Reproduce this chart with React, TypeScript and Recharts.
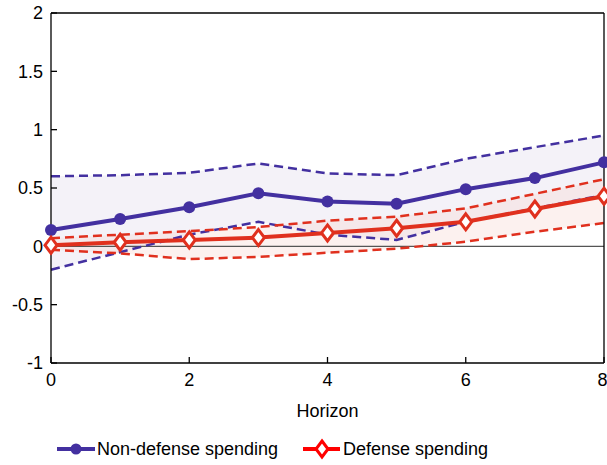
import React from "react";
import {
  Area,
  ComposedChart,
  Legend,
  Line,
  ReferenceLine,
  XAxis,
  YAxis,
} from "recharts";

const horizons = [0, 1, 2, 3, 4, 5, 6, 7, 8];

const nonDefense = [0.14, 0.235, 0.335, 0.455, 0.385, 0.365, 0.49, 0.585, 0.72];
const nonDefenseUpper = [0.6, 0.61, 0.63, 0.71, 0.625, 0.61, 0.75, 0.85, 0.95];
const nonDefenseLower = [-0.2, -0.05, 0.1, 0.21, 0.1, 0.055, 0.21, 0.325, 0.44];

const defense = [0.01, 0.035, 0.055, 0.075, 0.115, 0.155, 0.21, 0.32, 0.43];
const defenseUpper = [0.07, 0.1, 0.13, 0.165, 0.22, 0.255, 0.325, 0.45, 0.575];
const defenseLower = [-0.03, -0.06, -0.11, -0.09, -0.055, -0.02, 0.04, 0.125, 0.2];

const xTicks = [0, 2, 4, 6, 8];
const yTicks = [-1, -0.5, 0, 0.5, 1, 1.5, 2];

const PURPLE = "#4330a0";
const RED = "#e0301e";
const FONT = "'Liberation Sans', Arial, sans-serif";

const data = horizons.map((h, i) => ({
  h,
  nd: nonDefense[i],
  ndUp: nonDefenseUpper[i],
  ndLo: nonDefenseLower[i],
  ndBand: [nonDefenseLower[i], nonDefenseUpper[i]],
  d: defense[i],
  dUp: defenseUpper[i],
  dLo: defenseLower[i],
  dBand: [defenseLower[i], defenseUpper[i]],
}));

const Diamond = (props: any) => {
  const { cx, cy, stroke } = props;
  if (cx == null || cy == null) return null;
  return (
    <path
      d={`M${cx},${cy - 8} L${cx + 6},${cy} L${cx},${cy + 8} L${cx - 6},${cy} Z`}
      fill="#ffffff"
      stroke={stroke}
      strokeWidth={3}
    />
  );
};

const LegendBox = () => (
  <div
    style={{
      position: "relative",
      height: 46,
      width: 607,
      fontFamily: FONT,
      fontSize: 18,
      color: "#000",
    }}
  >
    <div style={{ position: "absolute", left: 57, top: 19, display: "flex", alignItems: "center", height: 22 }}>
      <svg width={40} height={22}>
        <line x1={0} y1={11} x2={38} y2={11} stroke={PURPLE} strokeWidth={4} />
        <circle cx={19} cy={11} r={5.5} fill={PURPLE} />
      </svg>
      <span>Non-defense spending</span>
    </div>
    <div style={{ position: "absolute", left: 303, top: 19, display: "flex", alignItems: "center", height: 22 }}>
      <svg width={40} height={22}>
        <line x1={0} y1={11} x2={37} y2={11} stroke="#ff0000" strokeWidth={4} />
        <path d="M19,3 L25,11 L19,19 L13,11 Z" fill="#fff" stroke="#ff0000" strokeWidth={3} />
      </svg>
      <span>Defense spending</span>
    </div>
  </div>
);

export default function App() {
  const tickStyle = { fill: "#000", fontSize: 18, fontFamily: FONT };
  return (
    <div style={{ position: "absolute", left: 0, top: 0, background: "#fff" }}>
      <ComposedChart
        width={607}
        height={465}
        data={data}
        margin={{ top: 12, right: 2, bottom: 0, left: 0 }}
      >
        <XAxis
          xAxisId="b"
          dataKey="h"
          type="number"
          domain={[0, 8]}
          ticks={xTicks}
          tickSize={-6}
          tickMargin={16}
          stroke="#000"
          strokeWidth={1.3}
          tick={tickStyle}
          height={56}
          label={{
            value: "Horizon",
            position: "insideBottom",
            offset: 2,
            fill: "#000",
            fontSize: 18,
            fontFamily: FONT,
          }}
        />
        <XAxis
          xAxisId="t"
          orientation="top"
          dataKey="h"
          type="number"
          domain={[0, 8]}
          ticks={xTicks}
          tickSize={-6}
          tick={false}
          stroke="#000"
          strokeWidth={1.3}
          height={1}
        />
        <YAxis
          yAxisId="l"
          type="number"
          domain={[-1, 2]}
          ticks={yTicks}
          tickSize={-6}
          tickMargin={14}
          stroke="#000"
          strokeWidth={1.3}
          tick={tickStyle}
          width={51}
          interval={0}
        />
        <YAxis
          yAxisId="r"
          orientation="right"
          type="number"
          domain={[-1, 2]}
          ticks={yTicks}
          tickSize={-6}
          tick={false}
          stroke="#000"
          strokeWidth={1.3}
          width={1}
          interval={0}
        />
        <Legend verticalAlign="bottom" content={() => <LegendBox />} />

        <Area
          xAxisId="b"
          yAxisId="l"
          type="linear"
          dataKey="ndBand"
          fill="#f4f2f8"
          fillOpacity={1}
          stroke="none"
          isAnimationActive={false}
          legendType="none"
        />
        <Area
          xAxisId="b"
          yAxisId="l"
          type="linear"
          dataKey="dBand"
          fill="#f6d6d0"
          fillOpacity={0.35}
          stroke="none"
          isAnimationActive={false}
          legendType="none"
        />
        <ReferenceLine xAxisId="b" yAxisId="l" y={0} stroke="#555" strokeWidth={1.2} />

        {/* invisible series tied to the frame axes (top / right) */}
        <Line xAxisId="t" yAxisId="r" dataKey="nd" stroke="none" dot={false} legendType="none" isAnimationActive={false} />

        <Line xAxisId="b" yAxisId="l" dataKey="ndUp" stroke={PURPLE} strokeWidth={2.5} strokeDasharray="9 5" dot={false} isAnimationActive={false} />
        <Line xAxisId="b" yAxisId="l" dataKey="ndLo" stroke={PURPLE} strokeWidth={2.5} strokeDasharray="9 5" dot={false} isAnimationActive={false} />
        <Line xAxisId="b" yAxisId="l" dataKey="dUp" stroke={RED} strokeWidth={2.5} strokeDasharray="9 5" dot={false} isAnimationActive={false} />
        <Line xAxisId="b" yAxisId="l" dataKey="dLo" stroke={RED} strokeWidth={2.5} strokeDasharray="9 5" dot={false} isAnimationActive={false} />

        <Line
          xAxisId="b"
          yAxisId="l"
          dataKey="nd"
          stroke={PURPLE}
          strokeWidth={4}
          dot={{ r: 6, fill: PURPLE, stroke: PURPLE, strokeWidth: 0 }}
          isAnimationActive={false}
        />
        <Line
          xAxisId="b"
          yAxisId="l"
          dataKey="d"
          stroke={RED}
          strokeWidth={4}
          dot={<Diamond />}
          isAnimationActive={false}
        />
      </ComposedChart>
    </div>
  );
}
